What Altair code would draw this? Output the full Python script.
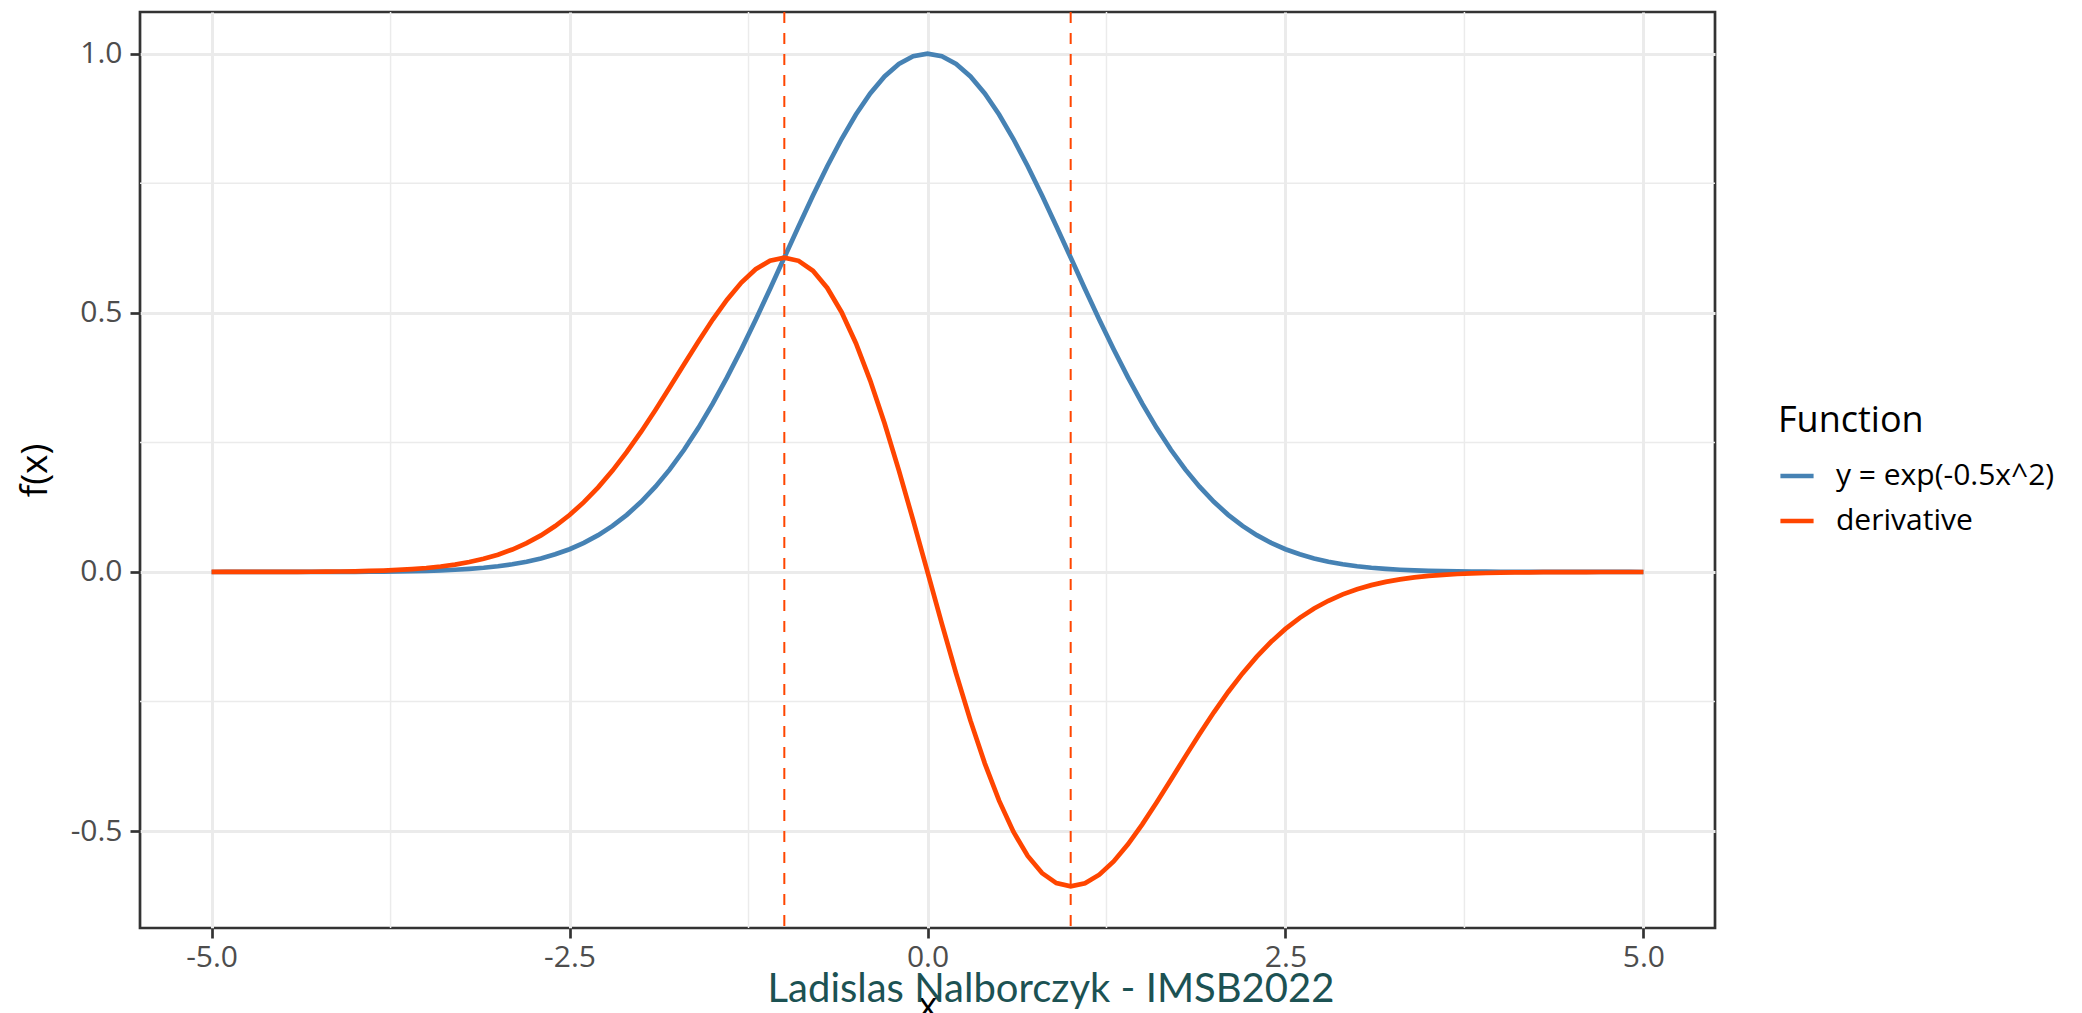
import altair as alt
import pandas as pd

# ---- data ----
x_values = [-5.0, -4.9, -4.8, -4.7, -4.6, -4.5, -4.4, -4.3, -4.2, -4.1,
            -4.0, -3.9, -3.8, -3.7, -3.6, -3.5, -3.4, -3.3, -3.2, -3.1,
            -3.0, -2.9, -2.8, -2.7, -2.6, -2.5, -2.4, -2.3, -2.2, -2.1,
            -2.0, -1.9, -1.8, -1.7, -1.6, -1.5, -1.4, -1.3, -1.2, -1.1,
            -1.0, -0.9, -0.8, -0.7, -0.6, -0.5, -0.4, -0.3, -0.2, -0.1,
            0.0, 0.1, 0.2, 0.3, 0.4, 0.5, 0.6, 0.7, 0.8, 0.9,
            1.0, 1.1, 1.2, 1.3, 1.4, 1.5, 1.6, 1.7, 1.8, 1.9,
            2.0, 2.1, 2.2, 2.3, 2.4, 2.5, 2.6, 2.7, 2.8, 2.9,
            3.0, 3.1, 3.2, 3.3, 3.4, 3.5, 3.6, 3.7, 3.8, 3.9,
            4.0, 4.1, 4.2, 4.3, 4.4, 4.5, 4.6, 4.7, 4.8, 4.9, 5.0]

gauss_values = [0.00000, 0.00001, 0.00001, 0.00002, 0.00003, 0.00004, 0.00006, 0.00010, 0.00015, 0.00022,
                0.00034, 0.00050, 0.00073, 0.00107, 0.00153, 0.00219, 0.00309, 0.00432, 0.00598, 0.00819,
                0.01111, 0.01492, 0.01984, 0.02612, 0.03405, 0.04394, 0.05613, 0.07100, 0.08892, 0.11025,
                0.13534, 0.16447, 0.19790, 0.23574, 0.27804, 0.32465, 0.37531, 0.42956, 0.48675, 0.54607,
                0.60653, 0.66698, 0.72615, 0.78270, 0.83527, 0.88250, 0.92312, 0.95600, 0.98020, 0.99501,
                1.00000, 0.99501, 0.98020, 0.95600, 0.92312, 0.88250, 0.83527, 0.78270, 0.72615, 0.66698,
                0.60653, 0.54607, 0.48675, 0.42956, 0.37531, 0.32465, 0.27804, 0.23574, 0.19790, 0.16447,
                0.13534, 0.11025, 0.08892, 0.07100, 0.05613, 0.04394, 0.03405, 0.02612, 0.01984, 0.01492,
                0.01111, 0.00819, 0.00598, 0.00432, 0.00309, 0.00219, 0.00153, 0.00107, 0.00073, 0.00050,
                0.00034, 0.00022, 0.00015, 0.00010, 0.00006, 0.00004, 0.00003, 0.00002, 0.00001, 0.00001, 0.00000]

deriv_values = [0.00002, 0.00003, 0.00005, 0.00008, 0.00012, 0.00018, 0.00028, 0.00042, 0.00062, 0.00092,
                0.00134, 0.00195, 0.00277, 0.00396, 0.00551, 0.00767, 0.01051, 0.01426, 0.01914, 0.02539,
                0.03333, 0.04327, 0.05555, 0.07052, 0.08853, 0.10985, 0.13471, 0.16330, 0.19562, 0.23153,
                0.27067, 0.31249, 0.35622, 0.40076, 0.44486, 0.48698, 0.52543, 0.55843, 0.58410, 0.60068,
                0.60653, 0.60028, 0.58092, 0.54789, 0.50116, 0.44125, 0.36925, 0.28680, 0.19604, 0.09950,
                0.00000, -0.09950, -0.19604, -0.28680, -0.36925, -0.44125, -0.50116, -0.54789, -0.58092, -0.60028,
                -0.60653, -0.60068, -0.58410, -0.55843, -0.52543, -0.48698, -0.44486, -0.40076, -0.35622, -0.31249,
                -0.27067, -0.23153, -0.19562, -0.16330, -0.13471, -0.10985, -0.08853, -0.07052, -0.05555, -0.04327,
                -0.03333, -0.02539, -0.01914, -0.01426, -0.01051, -0.00767, -0.00551, -0.00396, -0.00277, -0.00195,
                -0.00134, -0.00092, -0.00062, -0.00042, -0.00028, -0.00018, -0.00012, -0.00008, -0.00005, -0.00003, -0.00002]

series_names = ["y = exp(-0.5x^2)", "derivative"]
series_colors = ["#4682B4", "#FF4500"]

vline_x = [-1.0, 1.0]
x_ticks = [-5.0, -2.5, 0.0, 2.5, 5.0]
y_ticks = [-0.5, 0.0, 0.5, 1.0]
x_minor = [-3.75, -1.25, 1.25, 3.75]
y_minor = [-0.25, 0.25, 0.75]
caption_text = "Ladislas Nalborczyk - IMSB2022"

# ---- tables ----
lines_df = pd.DataFrame({
    "x": x_values + x_values,
    "y": gauss_values + deriv_values,
    "Function": [series_names[0]] * len(x_values) + [series_names[1]] * len(x_values),
})
vline_df = pd.DataFrame({"x": vline_x})
xminor_df = pd.DataFrame({"x": x_minor})
yminor_df = pd.DataFrame({"y": y_minor})
caption_df = pd.DataFrame({"t": [caption_text]})

minus_expr = "(datum.value < 0 ? '-' : '') + format(abs(datum.value), '.1f')"

xscale = alt.Scale(domain=[-5.5, 5.5], nice=False, zero=False)
yscale = alt.Scale(domain=[-0.68686, 1.08033], nice=False, zero=False)
xaxis = alt.Axis(values=x_ticks, labelExpr=minus_expr, title="x",
                 labelPadding=4, titlePadding=16)
yaxis = alt.Axis(values=y_ticks, labelExpr=minus_expr, title="f(x)",
                 labelPadding=8, titlePadding=16)

W, H = 1575, 916

minor_x = alt.Chart(xminor_df).mark_rule(color="#EBEBEB", strokeWidth=1.5).encode(
    x=alt.X("x:Q", scale=xscale, axis=xaxis)
)
minor_y = alt.Chart(yminor_df).mark_rule(color="#EBEBEB", strokeWidth=1.5).encode(
    y=alt.Y("y:Q", scale=yscale, axis=yaxis)
)

lines = alt.Chart(lines_df).mark_line(strokeWidth=4.7).encode(
    x=alt.X("x:Q", scale=xscale, axis=xaxis),
    y=alt.Y("y:Q", scale=yscale, axis=yaxis),
    color=alt.Color(
        "Function:N",
        scale=alt.Scale(domain=series_names, range=series_colors),
        legend=alt.Legend(
            title="Function",
            orient="none",
            legendX=1638,
            legendY=392,
            symbolType="stroke",
            symbolStrokeWidth=4.7,
            symbolSize=1100,
            labelFontSize=30,
            labelFont="Open Sans",
            labelColor="black",
            labelOffset=20,
            labelLimit=500,
            titleFontSize=36,
            titleFont="Open Sans",
            titleFontWeight="normal",
            titleColor="black",
            titlePadding=17,
            rowPadding=11,
        ),
    ),
    detail="Function:N",
)

vlines = alt.Chart(vline_df).mark_rule(
    color="#FF4500", strokeWidth=2, strokeDash=[11, 10]
).encode(
    x=alt.X("x:Q", scale=xscale, axis=xaxis)
)

caption = alt.Chart(caption_df).mark_text(
    font="Lato", fontSize=40, color="#1c5253", align="center", baseline="middle"
).encode(
    text="t:N",
    x=alt.value(911),
    y=alt.value(978),
)

chart = alt.layer(minor_x, minor_y, lines, vlines, caption).properties(
    width=W,
    height=H,
    autosize=alt.AutoSizeParams(type="none"),
    padding={"left": 132, "top": 4, "right": 340, "bottom": 93},
).configure_view(
    stroke="#333333", strokeWidth=2.7
).configure_axis(
    domain=False,
    grid=True,
    gridColor="#EBEBEB",
    gridWidth=3,
    tickColor="#333333",
    tickWidth=2.7,
    tickSize=10,
    labelFont="Open Sans",
    labelFontSize=30,
    labelColor="#4D4D4D",
    titleFont="Open Sans",
    titleFontSize=37,
    titleFontWeight="normal",
    titleColor="black",
)

chart.save("out.html", embed_options={"renderer": "svg", "actions": False})
